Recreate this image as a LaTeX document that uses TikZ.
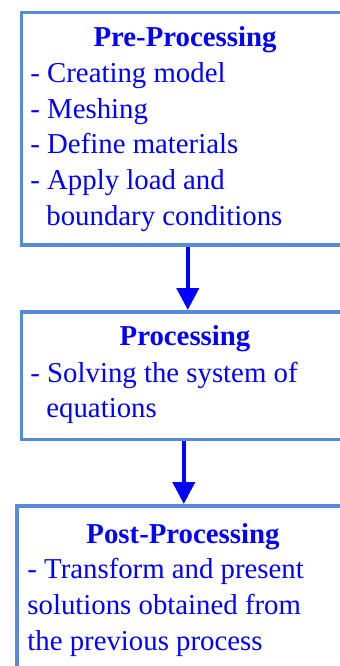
\documentclass[tikz,border=0pt]{standalone}
\usepackage{fontspec}
\setmainfont{Liberation Serif}
\usetikzlibrary{arrows.meta}

\definecolor{boxblue}{RGB}{85,140,213}
\definecolor{txtblue}{RGB}{0,0,255}

\tikzset{
  stagebox/.style={draw=boxblue, line width=1.8pt, rectangle, anchor=north west, inner sep=0pt},
  headtxt/.style={font=\fontsize{14.4}{17}\selectfont\bfseries, text=txtblue, anchor=base, inner sep=0pt},
  itemtxt/.style={font=\fontsize{14.4}{17}\selectfont, text=txtblue, anchor=base west, inner sep=0pt},
  flow/.style={draw=txtblue, line width=2pt, -{Triangle[width=11pt,length=11pt]}}
}

\begin{document}
\begin{tikzpicture}[x=0.5pt, y=-0.5pt]

	\useasboundingbox (0,0) rectangle (340,666);
	\clip (0,0) rectangle (340,666);

	% Text columns
	\def\leftofs{30}
	\def\hangofs{46}

	% Boxes
	\node[stagebox, minimum width=166.5pt, minimum height=116.25pt] (pre) at (19.5,10.5) {};
	\node[stagebox, minimum width=166.5pt, minimum height=63.75pt] (proc) at (19.5,310) {};
	\node[stagebox, minimum width=166.5pt, minimum height=98pt] (post) at (15.5,504) {};

	% Pre-Processing
	\node[headtxt] (preH) at (185,46) {Pre-Processing};
	\node[itemtxt] (preA) at (\leftofs,82) {- Creating model};
	\node[itemtxt] (preB) at (\leftofs,118) {- Meshing};
	\node[itemtxt] (preC) at (\leftofs,153.5) {- Define materials};
	\node[itemtxt] (preD) at (\leftofs,189.5) {- Apply load and};
	\node[itemtxt] (preE) at (\hangofs,225) {boundary conditions};

	% Processing
	\node[headtxt] (procH) at (185,345) {Processing};
	\node[itemtxt] (procA) at (\leftofs,382) {- Solving the system of};
	\node[itemtxt] (procB) at (\hangofs,417) {equations};

	% Post-Processing
	\node[headtxt] (postH) at (183,543) {Post-Processing};
	\node[itemtxt] (postA) at (27,578) {- Transform and present};
	\node[itemtxt] (postB) at (27,614.5) {solutions obtained from};
	\node[itemtxt] (postC) at (27,650) {the previous process};

	% Arrows
	\draw[flow] (pre.south) -- (proc.north);
	\draw[flow] (proc.south -| post.north) -- (post.north);

\end{tikzpicture}
\end{document}
